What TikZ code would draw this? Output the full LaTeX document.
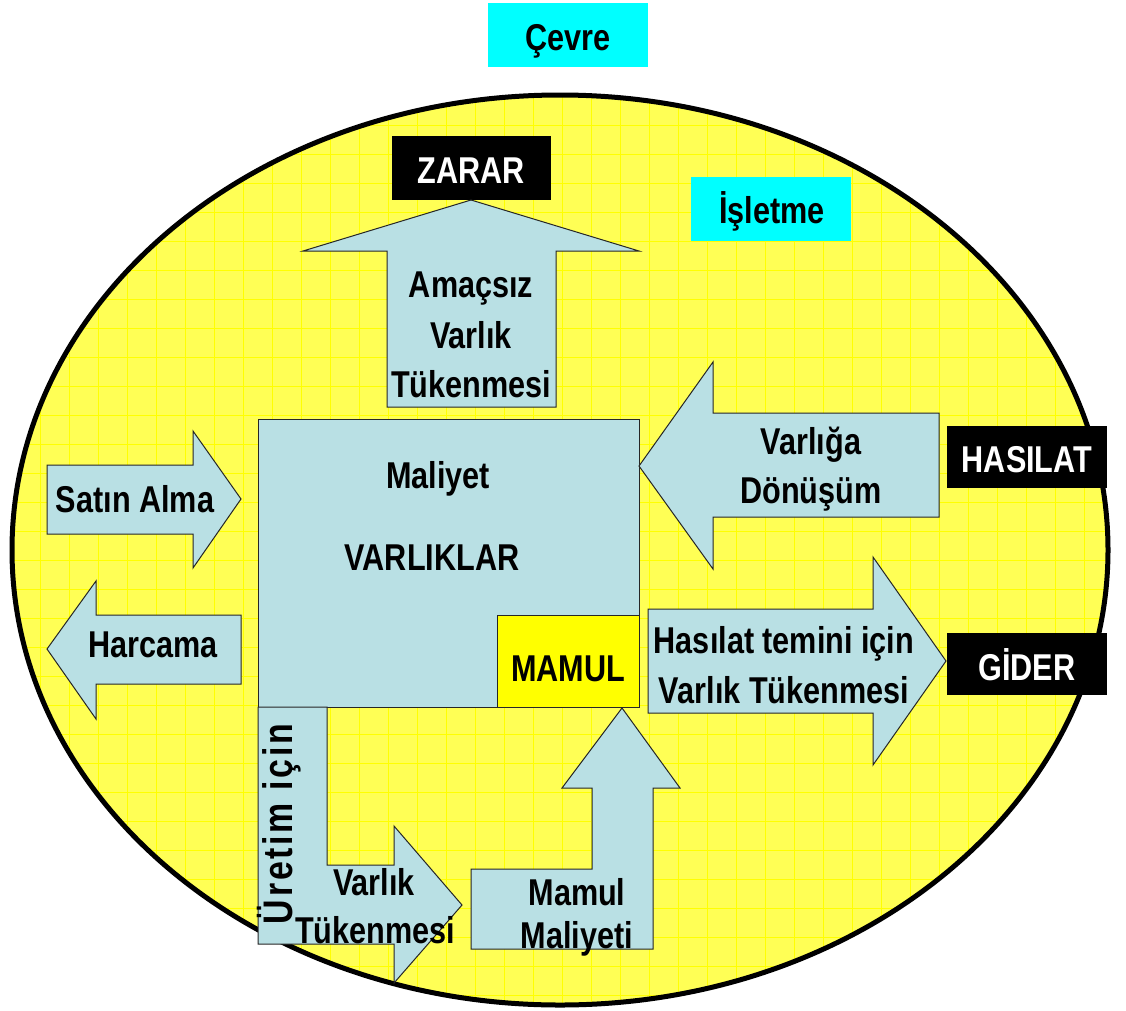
\documentclass[tikz,border=0pt]{standalone}
\usepackage{fontspec}
\setmainfont{Liberation Sans}[FakeStretch=0.82]
\newfontfamily\spacedfont{Liberation Sans}[FakeStretch=0.82,LetterSpace=6.8]
\definecolor{shapeblue}{RGB}{185,224,228}
\definecolor{ellyellow}{RGB}{255,255,85}
\definecolor{gridyellow}{RGB}{255,255,0}
\definecolor{boxcyan}{RGB}{0,255,255}
\definecolor{mamulyellow}{RGB}{255,255,0}
\begin{document}
\begin{tikzpicture}[x=0.75pt,y=-0.75pt,
  lbl/.style={anchor=base, inner sep=0pt, font=\fontsize{28}{34}\selectfont\bfseries},
  wlbl/.style={lbl, text=white},
  shp/.style={draw=black!85, line width=0.75pt, fill=shapeblue, line join=miter},
  gridln/.style={gridyellow, line width=0.75pt}]
\useasboundingbox (0,0) rectangle (1126,1010);
% ellipse (Isletme) with grid
\fill[ellyellow] (560,550) ellipse [x radius=548, y radius=455];
\begin{scope}
  \clip (560,550) ellipse [x radius=548, y radius=455];
  \foreach \k in {0,...,38} \draw[gridln] ({11+29*\k},90) -- ({11+29*\k},1010);
  \foreach \k in {0,...,34} \draw[gridln] (0,{9+29*\k}) -- (1126,{9+29*\k});
\end{scope}
\draw[black, line width=3.75pt] (560,550) ellipse [x radius=548, y radius=455];
% label boxes
\fill[boxcyan] (488,3) rectangle (648,67);
\node[lbl] (cevre) at (568,50) {Çevre};
\fill[boxcyan] (691,177) rectangle (851,241);
\node[lbl] (isletme) at (772,223) {İşletme};
\fill[black] (392,136) rectangle (551,200);
\node[wlbl] (zarar) at (471,183) {ZARAR};
\fill[black] (947,426) rectangle (1107,488);
\node[wlbl] (hasilat) at (1027,472) {HASILAT};
\fill[black] (947,633) rectangle (1107,695);
\node[wlbl] (gider) at (1027,680) {GİDER};
% main box
\draw[shp] (258,419) rectangle (639,707);
\draw[draw=black!85, line width=0.75pt, fill=mamulyellow] (497,615) rectangle (639,707);
\node[lbl] (maliyet) at (438,488) {Maliyet};
\node[lbl] (varliklar) at (432,570) {VARLIKLAR};
\node[lbl] (mamul) at (568,681) {MAMUL};
% up arrow to ZARAR
\draw[shp] (387,407) -- (387,251) -- (303,251) -- (471,200) -- (639,251) -- (556,251) -- (556,407) -- cycle;
\node[lbl] (amacA) at (471,297) {Amaçsız};
\node[lbl] (amacB) at (471,348) {Varlık};
\node[lbl] (amacC) at (471,397) {Tükenmesi};
% Satin Alma
\draw[shp] (47,465) -- (193,465) -- (193,431) -- (241,499) -- (193,568) -- (193,534) -- (47,534) -- cycle;
\node[lbl] (satin) at (135,512) {Satın Alma};
% Harcama
\draw[shp] (241,615) -- (96,615) -- (96,581) -- (47,649) -- (96,719) -- (96,684) -- (241,684) -- cycle;
\node[lbl] (harcama) at (153,657) {Harcama};
% Varliga Donusum
\draw[shp] (939,413) -- (713,413) -- (713,362) -- (639,466) -- (713,569) -- (713,517) -- (939,517) -- cycle;
\node[lbl] (varligaA) at (811,454) {Varlığa};
\node[lbl] (varligaB) at (811,503) {Dönüşüm};
% Hasilat temini
\draw[shp] (648,609) -- (873,609) -- (873,557) -- (946,661) -- (873,765) -- (873,713) -- (648,713) -- cycle;
\node[lbl] (hasA) at (784,653) {Hasılat temini için};
\node[lbl] (hasB) at (784,703) {Varlık Tükenmesi};
% Uretim icin
\draw[shp] (258,707) -- (327,707) -- (327,865) -- (394,865) -- (394,826) -- (462,905) -- (394,983) -- (394,944) -- (258,944) -- cycle;
\node[anchor=base, inner sep=0pt, rotate=90, font=\spacedfont\fontsize{31}{36}\selectfont\bfseries] (uretim) at (292,824) {Üretim için};
\node[lbl] (urA) at (374,895) {Varlık};
\node[lbl] (urB) at (375,943) {Tükenmesi};
% Mamul Maliyeti
\draw[shp] (471,869) -- (592,869) -- (592,788) -- (562,788) -- (622,708) -- (680,788) -- (653,788) -- (653,949) -- (471,949) -- cycle;
\node[lbl] (mmA) at (577,905) {Mamul};
\node[lbl] (mmB) at (577,948) {Maliyeti};
\end{tikzpicture}
\end{document}
